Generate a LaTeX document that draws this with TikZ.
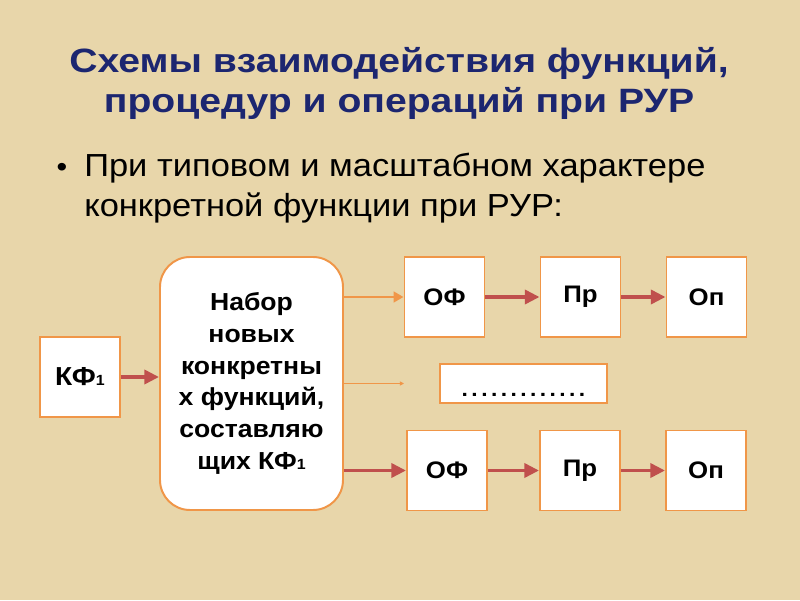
\documentclass[tikz,border=0pt]{standalone}
\usepackage{fontspec}
\setmainfont[FakeStretch=1.08]{Liberation Sans}
\newfontfamily\titlefont[FakeStretch=1.16]{Liberation Sans}
\usetikzlibrary{arrows.meta,positioning}
\definecolor{parchment}{RGB}{232,214,170}
\definecolor{boxline}{RGB}{240,150,72}
\definecolor{arrowred}{RGB}{192,80,77}
\definecolor{titleblue}{RGB}{28,38,112}
\newcommand{\one}{{\fontsize{10.5}{10.5}\selectfont 1}}
\newcommand{\dotrow}{\foreach \i in {1,...,13}{.\hspace{2.45pt}}}

\begin{document}
\begin{tikzpicture}[->, node distance=3.4cm,
  box/.style={draw=boxline, line width=1.4pt, fill=white, minimum size=2cm,
    inner sep=0pt, font=\bfseries\fontsize{17}{20}\selectfont},
  redarrow/.style={draw=arrowred, line width=2.8pt,
    -{Triangle[length=10.5pt,width=10pt]}},
  orangearrow/.style={draw=boxline, line width=2pt,
    -{Triangle[length=7pt,width=7.5pt]}},
  thinarrow/.style={draw=boxline, line width=0.6pt,
    -{Triangle[length=3pt,width=3pt]}}]
  \fill[parchment] (0,0) rectangle (20,15);

  \node[font=\titlefont\bfseries\fontsize{24}{28.4}\selectfont, text=titleblue, align=center]
    (title) at (9.975,12.925) {Схемы взаимодействия функций,\\процедур и операций при РУР};
  \node[font=\fontsize{22.7}{28.4}\selectfont, align=left, anchor=west, inner sep=0pt]
    (bullet) at (2.1,10.29) {При типовом и масштабном характере\\конкретной функции при РУР:};
  \node[font=\fontsize{20}{20}\selectfont, inner sep=0pt] (dot) at (1.55,10.75) {•};

  \node[box, font=\bfseries\fontsize{18.5}{22}\selectfont] (kf) at (2.0,5.575) {КФ\one};
  \node[box, rounded corners=0.75cm, minimum width=4.575cm, minimum height=6.325cm,
    align=center, font=\bfseries\fontsize{17.5}{22.5}\selectfont] (set) at (6.2875,5.4125)
    {Набор\\новых\\конкретны\\х функций,\\составляю\\щих КФ\one};

  \node[box] (of1) at (11.1125,7.575) {ОФ};
  \node[box] (pr1) [right of=of1]                      {Пр};
  \node[box] (op1) [right of=pr1, node distance=3.15cm] {Оп};
  \node[box] (of2) at (11.175,3.2375) {ОФ};
  \node[box] (pr2) at (14.5,3.2375)   {Пр};
  \node[box] (op2) [right of=pr2, node distance=3.15cm] {Оп};
  \node[box, minimum width=4.175cm, minimum height=0.975cm, text height=0.64cm,
    text depth=0pt, font=\bfseries\fontsize{15}{15}\selectfont] (dots) at (13.0875,5.4125)
    {\dotrow};
  \coordinate (midend) at (10.1,5.4125);

  \path (kf)                edge [redarrow]    (kf -| set.west)
        (set.east |- of1)   edge [orangearrow] (of1)
        (set)               edge [thinarrow]   (midend)
        (set.east |- of2)   edge [redarrow]    (of2)
        (of1)               edge [redarrow]    (pr1)
        (pr1)               edge [redarrow]    (op1)
        (of2)               edge [redarrow]    (pr2)
        (pr2)               edge [redarrow]    (op2)
        ;
\end{tikzpicture}
\end{document}
